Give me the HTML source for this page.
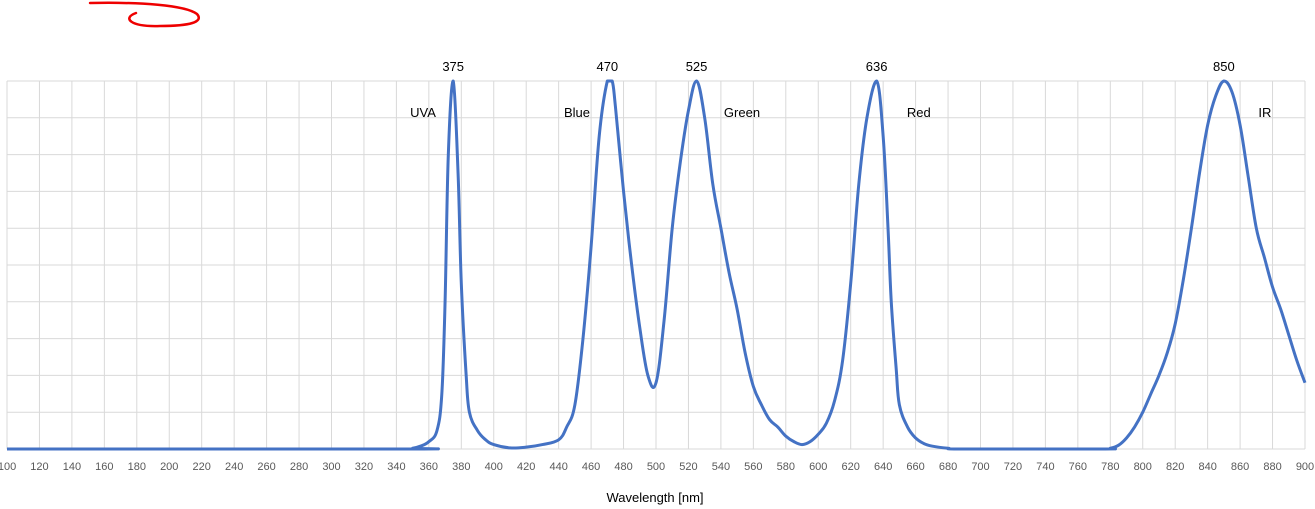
<!DOCTYPE html>
<html><head><meta charset="utf-8"><style>
body{margin:0;background:#fff;}
svg{display:block;font-family:"Liberation Sans",sans-serif;}
</style></head><body>
<svg id="chart" width="1315" height="509">
<path d="M90,3 C140,2 185,5 197,14 C204,22 190,26 160,26 C130,27 122,18 136,13" fill="none" stroke="#e00" stroke-width="2.5" stroke-linecap="round"/>
<g id="grid"></g>
<g id="ticks"></g>
<path id="line" fill="none" stroke="#4472C4" stroke-width="3" stroke-linejoin="round"/>
<g id="labels"></g>
<text x="655" y="502" text-anchor="middle" font-size="13" fill="#000">Wavelength [nm]</text>
</svg>
<script>
const wl=[100,345,350,355,360,365,368,370,372,375,378,380,383,385,390,395,400,410,420,430,440,445,450,455,460,465,470,473,475,480,485,490,495,500,505,510,515,520,525,530,535,540,545,550,555,560,565,570,575,580,585,590,595,600,605,610,615,620,625,630,636,640,643,645,648,650,655,660,665,670,680,690,775,780,785,790,795,800,805,810,815,820,825,830,835,840,845,850,855,860,865,870,875,880,885,890,895,900];
const intensity=[0,0,0.002,0.008,0.02,0.05,0.15,0.4,0.8,1.0,0.75,0.45,0.2,0.1,0.05,0.025,0.012,0.003,0.005,0.012,0.025,0.06,0.12,0.3,0.55,0.85,1.0,1.0,0.93,0.7,0.5,0.33,0.2,0.18,0.35,0.6,0.78,0.92,1.0,0.9,0.72,0.6,0.48,0.38,0.26,0.17,0.12,0.08,0.06,0.035,0.02,0.012,0.02,0.04,0.07,0.13,0.24,0.45,0.72,0.9,1.0,0.85,0.6,0.4,0.22,0.12,0.06,0.03,0.015,0.008,0.002,0,0,0.002,0.01,0.03,0.06,0.1,0.15,0.2,0.26,0.34,0.46,0.6,0.75,0.88,0.96,1.0,0.97,0.88,0.74,0.6,0.52,0.44,0.38,0.31,0.24,0.18];
const tickLabels=[100,120,140,160,180,200,220,240,260,280,300,320,340,360,380,400,420,440,460,480,500,520,540,560,580,600,620,640,660,680,700,720,740,760,780,800,820,840,860,880,900];
const peakValues=[375,470,525,636,850];
const bandNames=["UVA","Blue","Green","Red","IR"];
const bandPos=[356.4,451.3,553,662,875.3];
const X0=7,X1=1305,Y0=449,Y1=81;
const xs=v=>X0+(v-100)/800*(X1-X0);
const ys=v=>Y0-v*(Y0-Y1);
const NS="http://www.w3.org/2000/svg";
const grid=document.getElementById('grid'),ticks=document.getElementById('ticks'),labels=document.getElementById('labels');
for(let i=0;i<=10;i++){const l=document.createElementNS(NS,'line');


const y=ys(i/10);l.setAttribute('x1',X0);l.setAttribute('x2',X1);l.setAttribute('y1',y);l.setAttribute('y2',y);l.setAttribute('stroke','#d9d9d9');grid.appendChild(l);}
tickLabels.forEach(t=>{const l=document.createElementNS(NS,'line');


const x=xs(t);l.setAttribute('x1',x);l.setAttribute('x2',x);l.setAttribute('y1',Y1);l.setAttribute('y2',Y0);l.setAttribute('stroke','#d9d9d9');grid.appendChild(l);
const tx=document.createElementNS(NS,'text');


tx.setAttribute('x',x);tx.setAttribute('y',470);tx.setAttribute('text-anchor','middle');tx.setAttribute('font-size','11');tx.setAttribute('fill','#595959');tx.textContent=t;ticks.appendChild(tx);});
const pts=wl.map((w,i)=>[xs(w),ys(intensity[i])]);
let d='M'+pts[0][0]+','+pts[0][1];
for(let i=0;i<pts.length-1;i++){const p0=pts[Math.max(0,i-1)],p1=pts[i],p2=pts[i+1],p3=pts[Math.min(pts.length-1,i+2)];
const t=0.18;
let c1y=p1[1]+(p2[1]-p0[1])*t,c2y=p2[1]-(p3[1]-p1[1])*t;
c1y=Math.min(Y0,Math.max(Y1,c1y));c2y=Math.min(Y0,Math.max(Y1,c2y));
d+=` C${p1[0]+(p2[0]-p0[0])*t},${c1y} ${p2[0]-(p3[0]-p1[0])*t},${c2y} ${p2[0]},${p2[1]}`;}
document.getElementById('line').setAttribute('d',d);
peakValues.forEach((p,i)=>{const t=document.createElementNS(NS,'text');


t.setAttribute('x',xs(p));t.setAttribute('y',71);t.setAttribute('text-anchor','middle');t.setAttribute('font-size','13');t.textContent=p;labels.appendChild(t);
const b=document.createElementNS(NS,'text');


b.setAttribute('x',xs(bandPos[i]));b.setAttribute('y',117);b.setAttribute('text-anchor','middle');b.setAttribute('font-size','13');b.textContent=bandNames[i];labels.appendChild(b);});
</script>
</body></html>
